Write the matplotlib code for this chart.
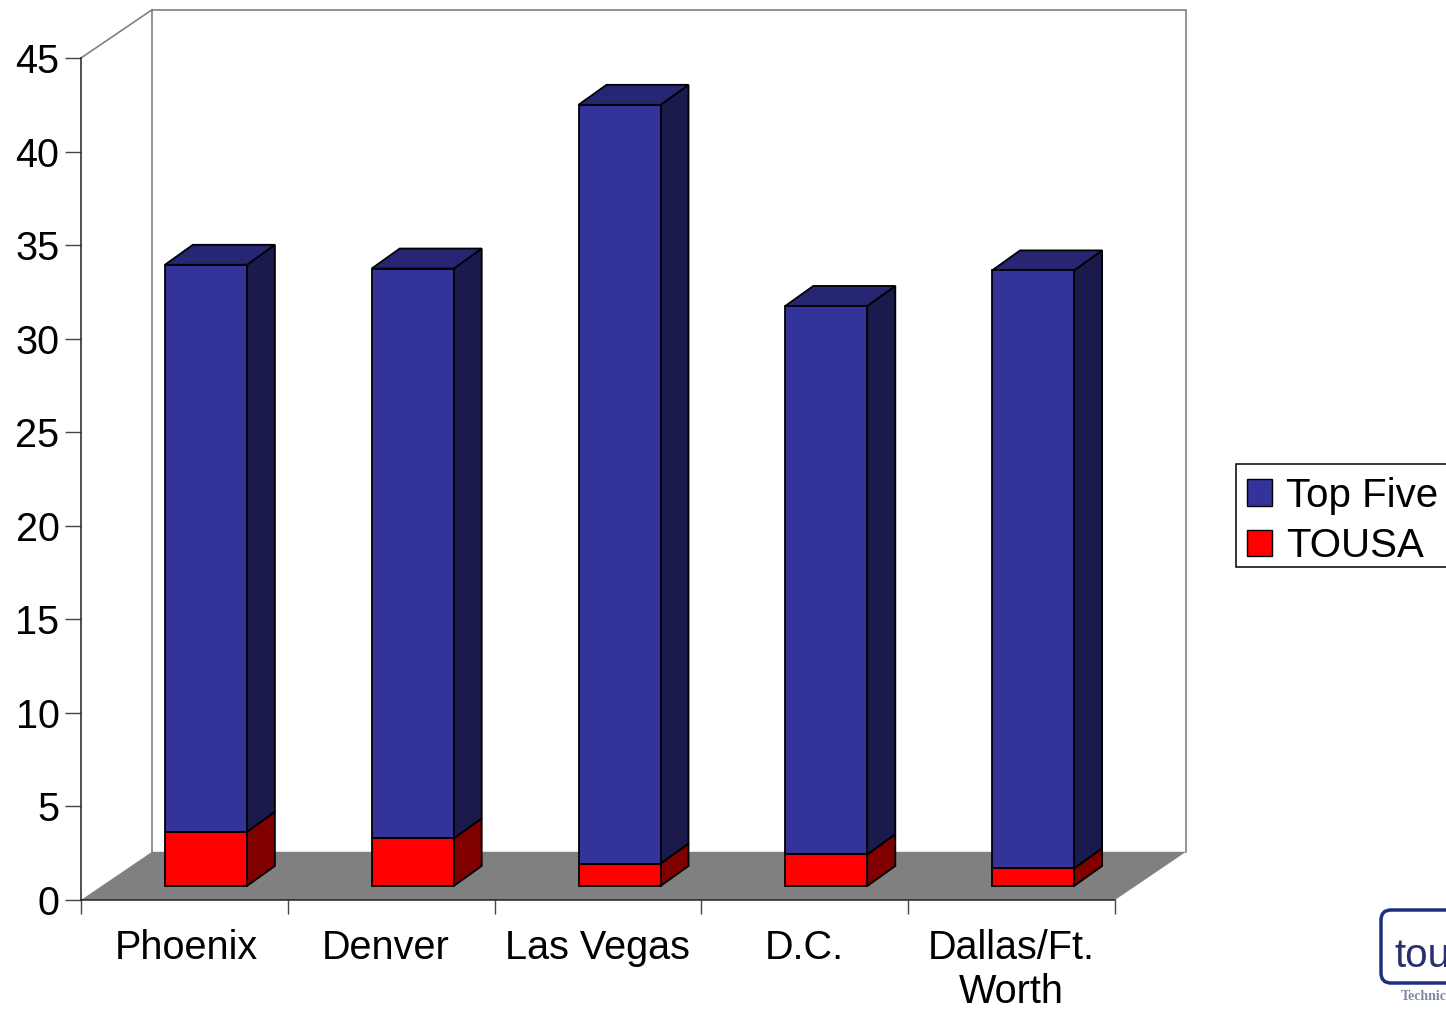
import matplotlib
matplotlib.use('Agg')
import matplotlib.pyplot as plt
from matplotlib.patches import Polygon, Patch, FancyBboxPatch, Rectangle

plt.rcParams['font.family'] = ['Liberation Sans', 'DejaVu Sans']

# Closings by market
markets = ['Phoenix', 'Denver', 'Las Vegas', 'D.C.', 'Dallas/Ft.\nWorth']
tousa = [2.9, 2.55, 1.2, 1.7, 0.95]
top_five = [30.3, 30.45, 40.55, 29.3, 31.95]
y_ticks = [0, 5, 10, 15, 20, 25, 30, 35, 40, 45]

W, H = 1446, 1009
fig = plt.figure(figsize=(W / 100, H / 100), dpi=100)
ax = fig.add_axes([81 / W, 1 - 900 / H, 1034 / W, 842 / H])
ax.set_xlim(0, 5)
ax.set_ylim(0, 45)

# depth of the chart box and of the bars, in axis units
depth_x = 71 / 206.8
depth_y = 48.2 / 18.71
bar_dx = 28 / 206.8
bar_dy = 20 / 18.71
bar_w = 82 / 206.8
shift_x = (depth_x - bar_dx) / 2
shift_y = 14 / 18.71

wall = '#808080'


def poly(points, face, edge='black', lw=1.3, z=3):
    ax.add_patch(Polygon(points, closed=True, facecolor=face, edgecolor=edge,
                         linewidth=lw, zorder=z, clip_on=False, joinstyle='miter'))


# floor and walls
poly([(0, 0), (5, 0), (5 + depth_x, depth_y), (depth_x, depth_y)], wall, edge='none', z=1)
ax.plot([depth_x, depth_x, 5 + depth_x, 5 + depth_x], [depth_y, 45 + depth_y, 45 + depth_y, depth_y],
        color=wall, lw=1.2, zorder=1, clip_on=False)
ax.plot([0, depth_x], [45, 45 + depth_y], color=wall, lw=1.2, zorder=1, clip_on=False)


def box(x0, y0, y1, front, side, top):
    x1 = x0 + bar_w
    poly([(x1, y0), (x1 + bar_dx, y0 + bar_dy), (x1 + bar_dx, y1 + bar_dy), (x1, y1)], side)
    poly([(x0, y1), (x1, y1), (x1 + bar_dx, y1 + bar_dy), (x0 + bar_dx, y1 + bar_dy)], top)
    poly([(x0, y0), (x1, y0), (x1, y1), (x0, y1)], front)


# stacked 3d bars
for i in range(len(markets)):
    x0 = i + 0.5 - bar_w / 2 + shift_x
    box(x0, shift_y, shift_y + tousa[i], '#ff0000', '#800000', '#800000')
    box(x0, shift_y + tousa[i], shift_y + tousa[i] + top_five[i], '#333399', '#1a1a4d', '#262673')

for side in ['top', 'right']:
    ax.spines[side].set_visible(False)
for side in ['left', 'bottom']:
    ax.spines[side].set_color('#222222')
    ax.spines[side].set_linewidth(1.1)
ax.patch.set_alpha(0)

ax.set_yticks(y_ticks)
ax.set_xticks(range(6))
ax.set_xticklabels([])
ax.set_xticks([0.508, 1.475, 2.495, 3.5, 4.5], minor=True)
ax.set_xticklabels(markets, minor=True, linespacing=1.2)
ax.tick_params(axis='y', length=11.5, width=1, color='#444444', labelsize=28.5, pad=4)
ax.tick_params(axis='x', which='major', length=10, width=1, color='#444444')
ax.tick_params(axis='x', which='minor', length=0, labelsize=28.5, pad=21)

# overlay for the legend box and the logo in the corner
logo = fig.add_axes([0, 0, 1, 1], zorder=-1)
logo.set_xlim(0, W)
logo.set_ylim(H, 0)
logo.axis('off')
logo.add_patch(Rectangle((1235.5, 463.5), 230, 103.5, facecolor='white', edgecolor='black', linewidth=1.1))

handles = [Patch(facecolor='#333399', edgecolor='black', label='Top Five'),
           Patch(facecolor='#ff0000', edgecolor='black', label='TOUSA')]
fig.legend(handles=handles, loc='upper left', bbox_to_anchor=(1235 / W, 1 - 465 / H),
           fontsize=29, frameon=False,
           borderaxespad=0, borderpad=0.29, handlelength=0.64, handleheight=0.64,
           handletextpad=0.33, labelspacing=0.31)

logo.add_patch(FancyBboxPatch((1387, 916), 100, 61, boxstyle='round,pad=6,rounding_size=10',
                              facecolor='white', edgecolor='#1f2f80', linewidth=2.5))
logo.text(1394, 956, 'tou', fontsize=29, color='#2a2f6e', va='center', ha='left')
logo.text(1401, 997, 'Technic', fontsize=10, color='#7f86a8', family='Liberation Serif',
          fontweight='bold', va='center', ha='left')

fig.savefig('out.png', dpi=100)
